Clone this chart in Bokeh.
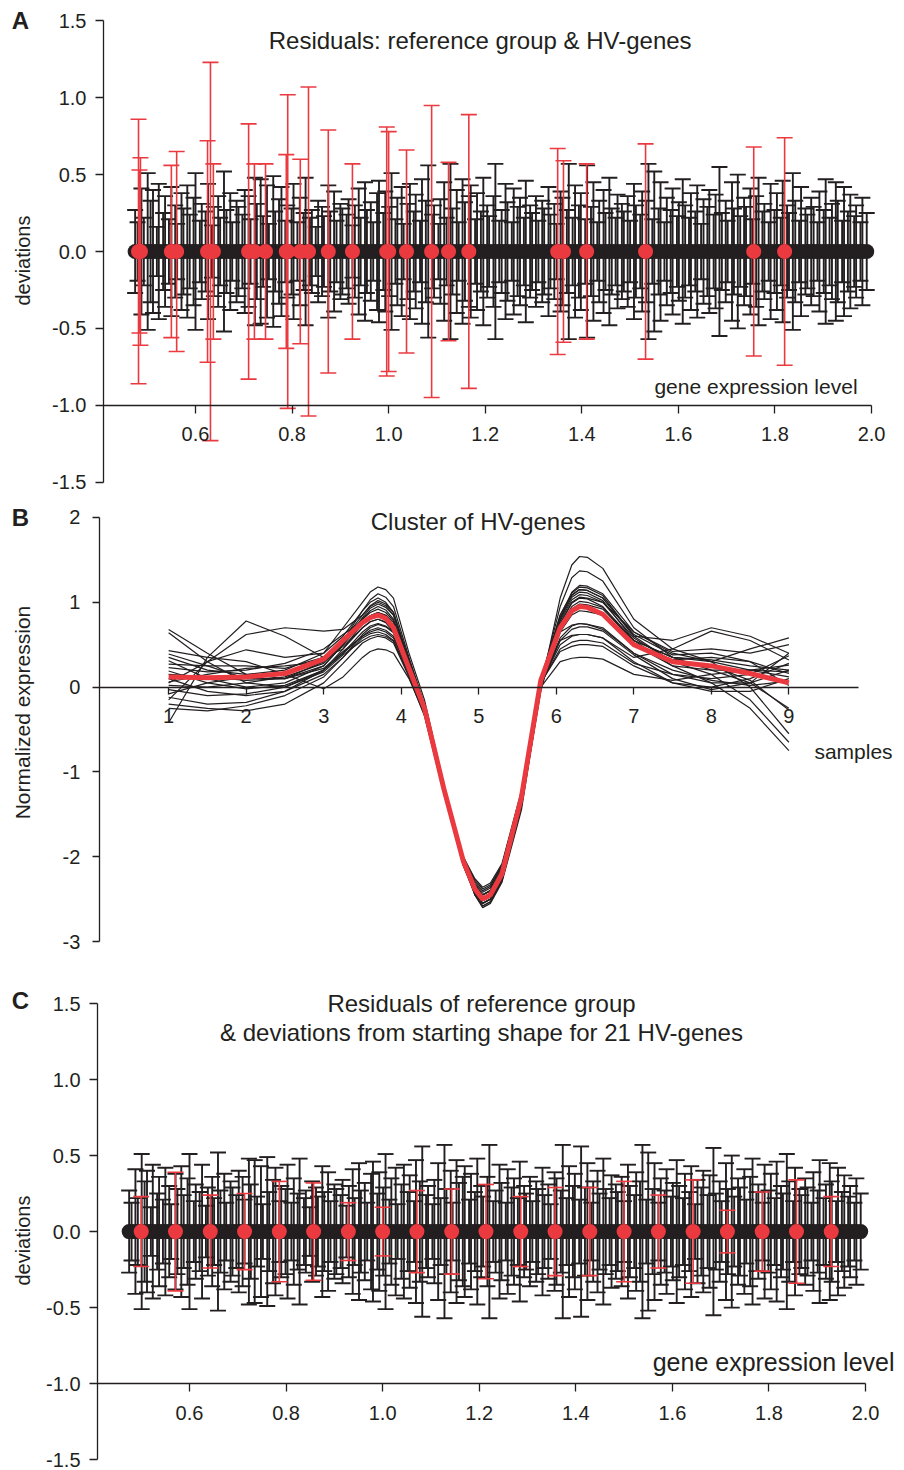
from bokeh.plotting import figure
from bokeh.models import (ColumnDataSource, Whisker, TeeHead, Range1d, FixedTicker,
                          PrintfTickFormatter, Label)
from bokeh.layouts import column
from bokeh.embed import file_html
from bokeh.resources import INLINE

FONT = "Liberation Sans"
INK = "#231f20"
RED = "#ea3a40"

# ---------------- data: reference group (same genes in panels A and C) ----------------
ref_level = [
    0.475, 0.480, 0.488, 0.493, 0.501, 0.507, 0.512, 0.520, 0.524, 0.533,
    0.537, 0.545, 0.550, 0.558, 0.562, 0.571, 0.575, 0.583, 0.588, 0.596,
    0.600, 0.609, 0.613, 0.621, 0.626, 0.634, 0.638, 0.647, 0.651, 0.659,
    0.664, 0.672, 0.676, 0.685, 0.689, 0.697, 0.702, 0.710, 0.714, 0.723,
    0.727, 0.735, 0.740, 0.748, 0.752, 0.761, 0.765, 0.773, 0.778, 0.786,
    0.790, 0.799, 0.803, 0.811, 0.816, 0.824, 0.828, 0.837, 0.841, 0.849,
    0.854, 0.862, 0.866, 0.875, 0.879, 0.887, 0.892, 0.900, 0.904, 0.913,
    0.917, 0.925, 0.930, 0.938, 0.942, 0.951, 0.955, 0.963, 0.968, 0.976,
    0.980, 0.989, 0.993, 1.001, 1.006, 1.014, 1.018, 1.027, 1.031, 1.039,
    1.044, 1.052, 1.056, 1.065, 1.069, 1.077, 1.082, 1.090, 1.094, 1.103,
    1.107, 1.115, 1.120, 1.128, 1.132, 1.141, 1.145, 1.153, 1.158, 1.166,
    1.170, 1.179, 1.183, 1.191, 1.196, 1.204, 1.208, 1.217, 1.221, 1.229,
    1.234, 1.242, 1.246, 1.255, 1.259, 1.267, 1.272, 1.280, 1.284, 1.293,
    1.297, 1.305, 1.310, 1.318, 1.322, 1.331, 1.335, 1.343, 1.348, 1.356,
    1.360, 1.369, 1.373, 1.381, 1.386, 1.394, 1.398, 1.407, 1.411, 1.419,
    1.424, 1.432, 1.436, 1.445, 1.449, 1.457, 1.462, 1.470, 1.474, 1.483,
    1.487, 1.495, 1.500, 1.508, 1.512, 1.521, 1.525, 1.533, 1.538, 1.546,
    1.550, 1.559, 1.563, 1.571, 1.576, 1.584, 1.588, 1.597, 1.601, 1.609,
    1.614, 1.622, 1.626, 1.635, 1.639, 1.647, 1.652, 1.660, 1.664, 1.673,
    1.677, 1.685, 1.690, 1.698, 1.702, 1.711, 1.715, 1.723, 1.728, 1.736,
    1.740, 1.749, 1.753, 1.761, 1.766, 1.774, 1.778, 1.787, 1.791, 1.799,
    1.804, 1.812, 1.816, 1.825, 1.829, 1.837, 1.842, 1.850, 1.854, 1.863,
    1.867, 1.875, 1.880, 1.888, 1.892, 1.901, 1.905, 1.913, 1.918, 1.926,
    1.930, 1.939, 1.943, 1.951, 1.956, 1.964, 1.968, 1.977, 1.981, 1.990,
]
ref_residual = [0.0] * len(ref_level)
ref_spread = [
    0.27, 0.19, 0.41, 0.22, 0.51, 0.33, 0.40, 0.16, 0.44, 0.25,
    0.36, 0.21, 0.42, 0.30, 0.18, 0.38, 0.28, 0.43, 0.24, 0.35,
    0.51, 0.20, 0.31, 0.26, 0.44, 0.17, 0.29, 0.36, 0.22, 0.52,
    0.27, 0.38, 0.19, 0.33, 0.29, 0.24, 0.40, 0.36, 0.21, 0.48,
    0.31, 0.47, 0.23, 0.43, 0.18, 0.49, 0.26, 0.34, 0.42, 0.20,
    0.30, 0.28, 0.44, 0.19, 0.35, 0.25, 0.48, 0.22, 0.27, 0.16,
    0.33, 0.29, 0.23, 0.43, 0.26, 0.39, 0.20, 0.31, 0.28, 0.24,
    0.34, 0.17, 0.30, 0.41, 0.22, 0.45, 0.27, 0.32, 0.19, 0.38,
    0.46, 0.25, 0.39, 0.29, 0.51, 0.21, 0.35, 0.42, 0.18, 0.31,
    0.44, 0.26, 0.37, 0.20, 0.47, 0.33, 0.56, 0.24, 0.30, 0.18,
    0.34, 0.45, 0.22, 0.57, 0.28, 0.40, 0.19, 0.47, 0.32, 0.36,
    0.43, 0.21, 0.38, 0.26, 0.48, 0.30, 0.23, 0.36, 0.57, 0.20,
    0.27, 0.44, 0.32, 0.19, 0.41, 0.29, 0.35, 0.22, 0.46, 0.30,
    0.25, 0.36, 0.20, 0.33, 0.28, 0.42, 0.24, 0.31, 0.18, 0.39,
    0.35, 0.27, 0.57, 0.22, 0.43, 0.30, 0.38, 0.21, 0.56, 0.29,
    0.45, 0.19, 0.33, 0.40, 0.25, 0.48, 0.28, 0.22, 0.37, 0.31,
    0.26, 0.36, 0.20, 0.44, 0.30, 0.24, 0.39, 0.33, 0.57, 0.21,
    0.52, 0.28, 0.45, 0.19, 0.35, 0.27, 0.41, 0.23, 0.32, 0.47,
    0.30, 0.22, 0.38, 0.26, 0.43, 0.18, 0.34, 0.29, 0.40, 0.24,
    0.37, 0.55, 0.25, 0.33, 0.20, 0.45, 0.28, 0.50, 0.23, 0.35,
    0.29, 0.41, 0.21, 0.36, 0.48, 0.26, 0.31, 0.19, 0.44, 0.27,
    0.38, 0.22, 0.46, 0.30, 0.25, 0.51, 0.33, 0.20, 0.42, 0.28,
    0.24, 0.35, 0.29, 0.19, 0.39, 0.27, 0.47, 0.22, 0.31, 0.45,
    0.33, 0.20, 0.42, 0.26, 0.37, 0.23, 0.30, 0.19, 0.35, 0.25,
]

# ---------------- data: HV genes in panel A ----------------
hv_level_a = [
    0.482, 0.486, 0.484, 0.550, 0.561, 0.625, 0.631, 0.637, 0.710, 0.722,
    0.745, 0.791, 0.788, 0.817, 0.834, 0.875, 0.925, 0.996, 1.000, 1.037,
    1.089, 1.124, 1.166, 1.350, 1.362, 1.410, 1.532, 1.756, 1.820,
]
hv_spread_a = [
    0.86, 0.61, 0.53, 0.56, 0.65, 0.72, 1.23, 0.57, 0.83, 0.57,
    0.57, 1.02, 0.63, 0.60, 1.07, 0.79, 0.57, 0.81, 0.78, 0.66,
    0.95, 0.58, 0.89, 0.67, 0.59, 0.57, 0.70, 0.68, 0.74,
]
hv_residual_a = [0.0] * len(hv_level_a)

# ---------------- data: 21 HV genes in panel C ----------------
hv_level_c = [
    0.500, 0.571, 0.643, 0.714, 0.786, 0.857, 0.929, 1.000, 1.071, 1.143,
    1.214, 1.286, 1.357, 1.429, 1.500, 1.571, 1.643, 1.714, 1.786, 1.857,
    1.929,
]
hv_spread_c = [
    0.23, 0.39, 0.24, 0.25, 0.33, 0.32, 0.19, 0.16, 0.27, 0.28,
    0.31, 0.23, 0.29, 0.29, 0.33, 0.24, 0.34, 0.14, 0.26, 0.34,
    0.23,
]
hv_residual_c = [0.0] * len(hv_level_c)

# ---------------- data: panel B, cluster of HV genes ----------------
samples = [1.0, 1.5, 2.0, 2.5, 3.0, 3.25, 3.5, 3.6, 3.7, 3.8, 3.9, 4.1, 4.3, 4.55, 4.8,
           4.95, 5.05, 5.15, 5.3, 5.55, 5.8, 6.05, 6.2, 6.3, 6.4, 6.6, 7.0, 7.5, 8.0, 8.5, 9.0]
g01 = [0.68, 0.40, 0.15, 0.10, 0.25, 0.50, 0.80, 0.90, 0.95, 0.91, 0.80, 0.30, -0.25, -1.25, -2.10, -2.43, -2.55, -2.50, -2.25, -1.35, 0.00, 0.75, 0.99, 1.05, 1.04, 0.95, 0.55, 0.35, 0.30, 0.20, 0.12]
g02 = [0.64, 0.30, 0.05, 0.00, 0.20, 0.45, 0.75, 0.84, 0.88, 0.84, 0.72, 0.25, -0.28, -1.22, -2.05, -2.36, -2.48, -2.43, -2.18, -1.30, 0.05, 0.65, 0.73, 0.75, 0.74, 0.68, 0.40, 0.15, 0.05, 0.05, 0.20]
g03 = [-0.42, 0.35, 0.78, 0.60, 0.35, 0.45, 0.70, 0.77, 0.80, 0.76, 0.65, 0.20, -0.30, -1.25, -2.10, -2.41, -2.52, -2.47, -2.20, -1.30, 0.02, 0.55, 0.61, 0.62, 0.62, 0.58, 0.35, 0.45, 0.66, 0.55, 0.32]
g04 = [-0.15, 0.30, 0.62, 0.70, 0.66, 0.68, 0.85, 0.95, 1.00, 0.96, 0.85, 0.30, -0.25, -1.20, -2.05, -2.34, -2.45, -2.40, -2.15, -1.25, 0.10, 0.85, 1.09, 1.15, 1.14, 1.05, 0.60, 0.55, 0.70, 0.60, 0.40]
g05 = [0.05, 0.30, 0.44, 0.35, 0.40, 0.60, 0.90, 1.00, 1.05, 1.00, 0.88, 0.32, -0.22, -1.20, -2.10, -2.45, -2.58, -2.53, -2.28, -1.40, -0.05, 0.80, 1.12, 1.20, 1.19, 1.10, 0.65, 0.40, 0.30, 0.45, 0.58]
g06 = [0.43, 0.35, 0.30, 0.15, -0.02, 0.12, 0.35, 0.42, 0.45, 0.44, 0.40, 0.10, -0.32, -1.25, -2.00, -2.28, -2.38, -2.33, -2.10, -1.25, 0.00, 0.30, 0.34, 0.35, 0.35, 0.33, 0.15, 0.08, 0.15, 0.20, 0.18]
g07 = [0.39, 0.25, 0.10, 0.10, 0.30, 0.55, 0.90, 1.03, 1.10, 1.06, 0.95, 0.35, -0.20, -1.18, -2.05, -2.42, -2.55, -2.50, -2.25, -1.40, 0.05, 0.95, 1.29, 1.37, 1.36, 1.25, 0.70, 0.35, 0.20, 0.05, -0.25]
g08 = [0.35, 0.20, 0.15, 0.20, 0.40, 0.70, 1.00, 1.12, 1.18, 1.15, 1.05, 0.40, -0.15, -1.15, -2.05, -2.45, -2.60, -2.55, -2.30, -1.45, 0.00, 1.05, 1.44, 1.54, 1.53, 1.40, 0.80, 0.45, 0.30, 0.00, -0.55]
g09 = [0.31, 0.10, 0.00, 0.05, 0.25, 0.50, 0.82, 0.93, 0.98, 0.94, 0.85, 0.30, -0.25, -1.22, -2.10, -2.39, -2.50, -2.45, -2.20, -1.30, 0.05, 0.85, 1.11, 1.18, 1.17, 1.08, 0.60, 0.30, 0.15, -0.15, -0.65]
g10 = [0.27, 0.25, 0.25, 0.22, 0.35, 0.55, 0.80, 0.88, 0.92, 0.88, 0.78, 0.28, -0.25, -1.20, -2.08, -2.40, -2.52, -2.47, -2.22, -1.35, 0.02, 0.80, 1.06, 1.12, 1.11, 1.02, 0.55, 0.25, 0.05, -0.25, -0.75]
g11 = [0.23, 0.18, 0.20, 0.28, 0.45, 0.62, 0.78, 0.83, 0.85, 0.81, 0.72, 0.25, -0.28, -1.22, -2.05, -2.36, -2.48, -2.43, -2.18, -1.30, 0.05, 0.75, 1.00, 1.06, 1.05, 1.00, 0.65, 0.42, 0.45, 0.40, 0.50]
g12 = [0.19, 0.05, -0.02, 0.02, 0.20, 0.40, 0.65, 0.72, 0.75, 0.72, 0.65, 0.20, -0.30, -1.25, -2.08, -2.39, -2.50, -2.45, -2.20, -1.30, 0.00, 0.65, 0.85, 0.90, 0.89, 0.85, 0.50, 0.25, 0.20, 0.20, 0.26]
g13 = [0.15, 0.12, 0.08, 0.10, 0.22, 0.42, 0.60, 0.65, 0.68, 0.65, 0.58, 0.18, -0.30, -1.22, -2.02, -2.33, -2.45, -2.40, -2.15, -1.28, 0.05, 0.58, 0.72, 0.75, 0.74, 0.70, 0.40, 0.20, 0.08, 0.02, 0.07]
g14 = [0.10, -0.05, -0.10, -0.05, 0.15, 0.35, 0.58, 0.63, 0.65, 0.62, 0.55, 0.15, -0.32, -1.25, -2.05, -2.32, -2.42, -2.37, -2.12, -1.25, 0.05, 0.50, 0.60, 0.62, 0.62, 0.58, 0.30, 0.05, -0.05, -0.05, 0.10]
g15 = [0.06, 0.15, 0.22, 0.25, 0.30, 0.48, 0.70, 0.77, 0.80, 0.77, 0.68, 0.22, -0.28, -1.22, -2.05, -2.38, -2.50, -2.45, -2.20, -1.32, 0.03, 0.70, 0.92, 0.98, 0.97, 0.92, 0.55, 0.35, 0.32, 0.25, 0.20]
g16 = [0.02, 0.00, 0.05, 0.12, 0.28, 0.50, 0.75, 0.84, 0.88, 0.85, 0.76, 0.26, -0.26, -1.20, -2.08, -2.42, -2.55, -2.50, -2.25, -1.38, 0.00, 0.78, 1.03, 1.09, 1.08, 1.00, 0.58, 0.30, 0.25, 0.08, -0.27]
g17 = [-0.03, -0.10, -0.08, 0.00, 0.18, 0.38, 0.55, 0.60, 0.62, 0.60, 0.54, 0.15, -0.32, -1.25, -2.02, -2.30, -2.40, -2.35, -2.10, -1.25, 0.05, 0.45, 0.53, 0.55, 0.55, 0.52, 0.28, 0.15, 0.10, 0.15, 0.37]
g18 = [-0.08, 0.05, 0.12, 0.15, 0.30, 0.55, 0.85, 0.96, 1.02, 0.98, 0.88, 0.32, -0.22, -1.18, -2.08, -2.45, -2.58, -2.53, -2.28, -1.40, -0.02, 0.82, 1.08, 1.15, 1.14, 1.05, 0.62, 0.38, 0.40, 0.30, 0.16]
g19 = [-0.12, -0.20, -0.18, -0.05, 0.20, 0.40, 0.60, 0.67, 0.70, 0.67, 0.60, 0.18, -0.30, -1.22, -2.05, -2.34, -2.45, -2.40, -2.15, -1.28, 0.05, 0.55, 0.68, 0.71, 0.71, 0.66, 0.38, 0.10, -0.03, 0.05, 0.40]
g20 = [-0.20, -0.25, -0.28, -0.20, 0.05, 0.28, 0.52, 0.57, 0.60, 0.58, 0.52, 0.12, -0.34, -1.25, -2.00, -2.26, -2.36, -2.31, -2.08, -1.22, 0.05, 0.42, 0.48, 0.50, 0.50, 0.48, 0.25, 0.05, 0.00, 0.10, 0.28]
g21 = [-0.25, -0.28, -0.22, -0.10, 0.12, 0.35, 0.62, 0.70, 0.74, 0.71, 0.64, 0.22, -0.28, -1.22, -2.06, -2.38, -2.50, -2.45, -2.20, -1.32, 0.02, 0.72, 0.95, 1.01, 1.00, 0.94, 0.52, 0.32, 0.35, 0.30, 0.02]
gene_profiles = [g01, g02, g03, g04, g05, g06, g07, g08, g09, g10, g11,
                 g12, g13, g14, g15, g16, g17, g18, g19, g20, g21]
cluster_mean = [0.12, 0.11, 0.12, 0.16, 0.33, 0.55, 0.76, 0.82, 0.85, 0.81, 0.70, 0.22, -0.25, -1.20, -2.05,
                -2.38, -2.50, -2.45, -2.20, -1.30, 0.08, 0.70, 0.90, 0.95, 0.94, 0.86, 0.50, 0.30, 0.25, 0.16, 0.05]

# ---------------- ticks ----------------
level_ticks = [0.6, 0.8, 1.0, 1.2, 1.4, 1.6, 1.8, 2.0]
deviation_ticks = [-1.5, -1.0, -0.5, 0.0, 0.5, 1.0, 1.5]
sample_ticks = [1, 2, 3, 4, 5, 6, 7, 8, 9]
expression_ticks = [-3, -2, -1, 0, 1, 2]


def style_axis(ax, ticks, fmt, bounds, standoff, tick_out=8):
    ax.ticker = FixedTicker(ticks=ticks)
    ax.formatter = PrintfTickFormatter(format=fmt)
    ax.bounds = bounds
    ax.axis_line_color = INK
    ax.axis_line_width = 1.3
    ax.major_tick_line_color = INK
    ax.major_tick_line_width = 1.3
    ax.major_tick_out = tick_out
    ax.major_tick_in = 0
    ax.minor_tick_line_color = None
    ax.major_label_text_font = FONT
    ax.major_label_text_font_size = "20px"
    ax.major_label_text_color = INK
    ax.major_label_standoff = standoff


def add_text(p, x, y, text, size, align="center", bold=False, angle=0):
    p.add_layout(Label(x=x, y=y, text=text, text_font=FONT, text_font_size=size,
                       text_color=INK, text_align=align, text_baseline="middle",
                       text_font_style="bold" if bold else "normal",
                       angle=angle, angle_units="deg"))


def base_figure(height, x_range, y_range, right, top, bottom):
    p = figure(width=904, height=height, x_range=x_range, y_range=y_range,
               output_backend="svg", toolbar_location=None,
               min_border_left=0, min_border_right=right,
               min_border_top=top, min_border_bottom=bottom)
    p.xgrid.visible = False
    p.ygrid.visible = False
    p.outline_line_color = None
    p.background_fill_color = "white"
    p.border_fill_color = "white"
    return p


def residual_panel(height, x_lo, x_hi, top, bottom, y_lo, y_hi, hv_x, hv_y, hv_e):
    p = base_figure(height, Range1d(x_lo, x_hi), Range1d(y_lo, y_hi), 10, top, bottom)
    style_axis(p.xaxis[0], level_ticks, "%.1f", (0.4095, 2.0), 14)
    p.xaxis[0].fixed_location = -1.0
    style_axis(p.yaxis[0], deviation_ticks, "%.1f", (-1.5, 1.5), 9)
    p.yaxis[0].fixed_location = 0.4095

    ref = ColumnDataSource(dict(x=ref_level, y=ref_residual,
                                upper=[r + e for r, e in zip(ref_residual, ref_spread)],
                                lower=[r - e for r, e in zip(ref_residual, ref_spread)]))
    hv = ColumnDataSource(dict(x=hv_x, y=hv_y,
                               upper=[r + e for r, e in zip(hv_y, hv_e)],
                               lower=[r - e for r, e in zip(hv_y, hv_e)]))
    p.add_layout(Whisker(source=ref, base="x", upper="upper", lower="lower",
                         line_color=INK, line_width=1.9, level="underlay",
                         upper_head=TeeHead(size=16, line_color=INK, line_width=1.9),
                         lower_head=TeeHead(size=16, line_color=INK, line_width=1.9)))
    p.add_layout(Whisker(source=hv, base="x", upper="upper", lower="lower",
                         line_color=RED, line_width=1.6, level="underlay",
                         upper_head=TeeHead(size=16, line_color=RED, line_width=1.6),
                         lower_head=TeeHead(size=16, line_color=RED, line_width=1.6)))
    p.scatter("x", "y", source=ref, size=15, fill_color=INK, line_color=None)
    p.scatter("x", "y", source=hv, size=15, fill_color=RED, line_color=None)
    return p


# ---------------- panel A ----------------
pA = residual_panel(500, 0.1962, 2.0475, 5, 3, -1.6, 1.6, hv_level_a, hv_residual_a, hv_spread_a)
add_text(pA, 0.2376, 1.502, "A", "24px", bold=True)
add_text(pA, 0.2418, -0.059, "deviations", "20px", angle=90)
add_text(pA, 1.1964, 1.372, "Residuals: reference group  & HV-genes", "24px")
add_text(pA, 1.971, -0.878, "gene expression level", "21px", align="right")

# ---------------- panel B ----------------
pB = base_figure(483, Range1d(-1.1685, 10.362), Range1d(-3.153, 2.106), 0, 8, 29)
style_axis(pB.xaxis[0], sample_ticks, "%d", (0.107, 9.893), 15, tick_out=7)
pB.xaxis[0].fixed_location = 0
style_axis(pB.yaxis[0], expression_ticks, "%d", (-3, 2), 12, tick_out=7)
pB.yaxis[0].fixed_location = 0.107
pB.multi_line(xs=[samples] * len(gene_profiles), ys=gene_profiles, line_color=INK, line_width=1.2)
pB.line(samples, cluster_mean, line_color=RED, line_width=5)
add_text(pB, -0.913, 2.0, "B", "24px", bold=True)
add_text(pB, 4.992, 1.953, "Cluster of HV-genes", "24px")
add_text(pB, -0.888, -0.30, "Normalized expression", "21px", angle=90)
add_text(pB, 9.329, -0.76, "samples", "21px", align="left")

# ---------------- panel C ----------------
pC = residual_panel(487, 0.2086, 2.060, 5, 3, -1.552, 1.599, hv_level_c, hv_residual_c, hv_spread_c)
add_text(pC, 0.250, 1.52, "C", "24px", bold=True)
add_text(pC, 1.2047, 1.50, "Residuals of reference group", "24px")
add_text(pC, 1.2047, 1.31, "& deviations from starting shape for 21 HV-genes", "24px")
add_text(pC, 0.2542, -0.059, "deviations", "20px", angle=90)
add_text(pC, 2.060, -0.855, "gene expression level", "25px", align="right")

layout = column(pA, pB, pC, spacing=0)
open("out.html", "w").write(file_html(layout, INLINE))
